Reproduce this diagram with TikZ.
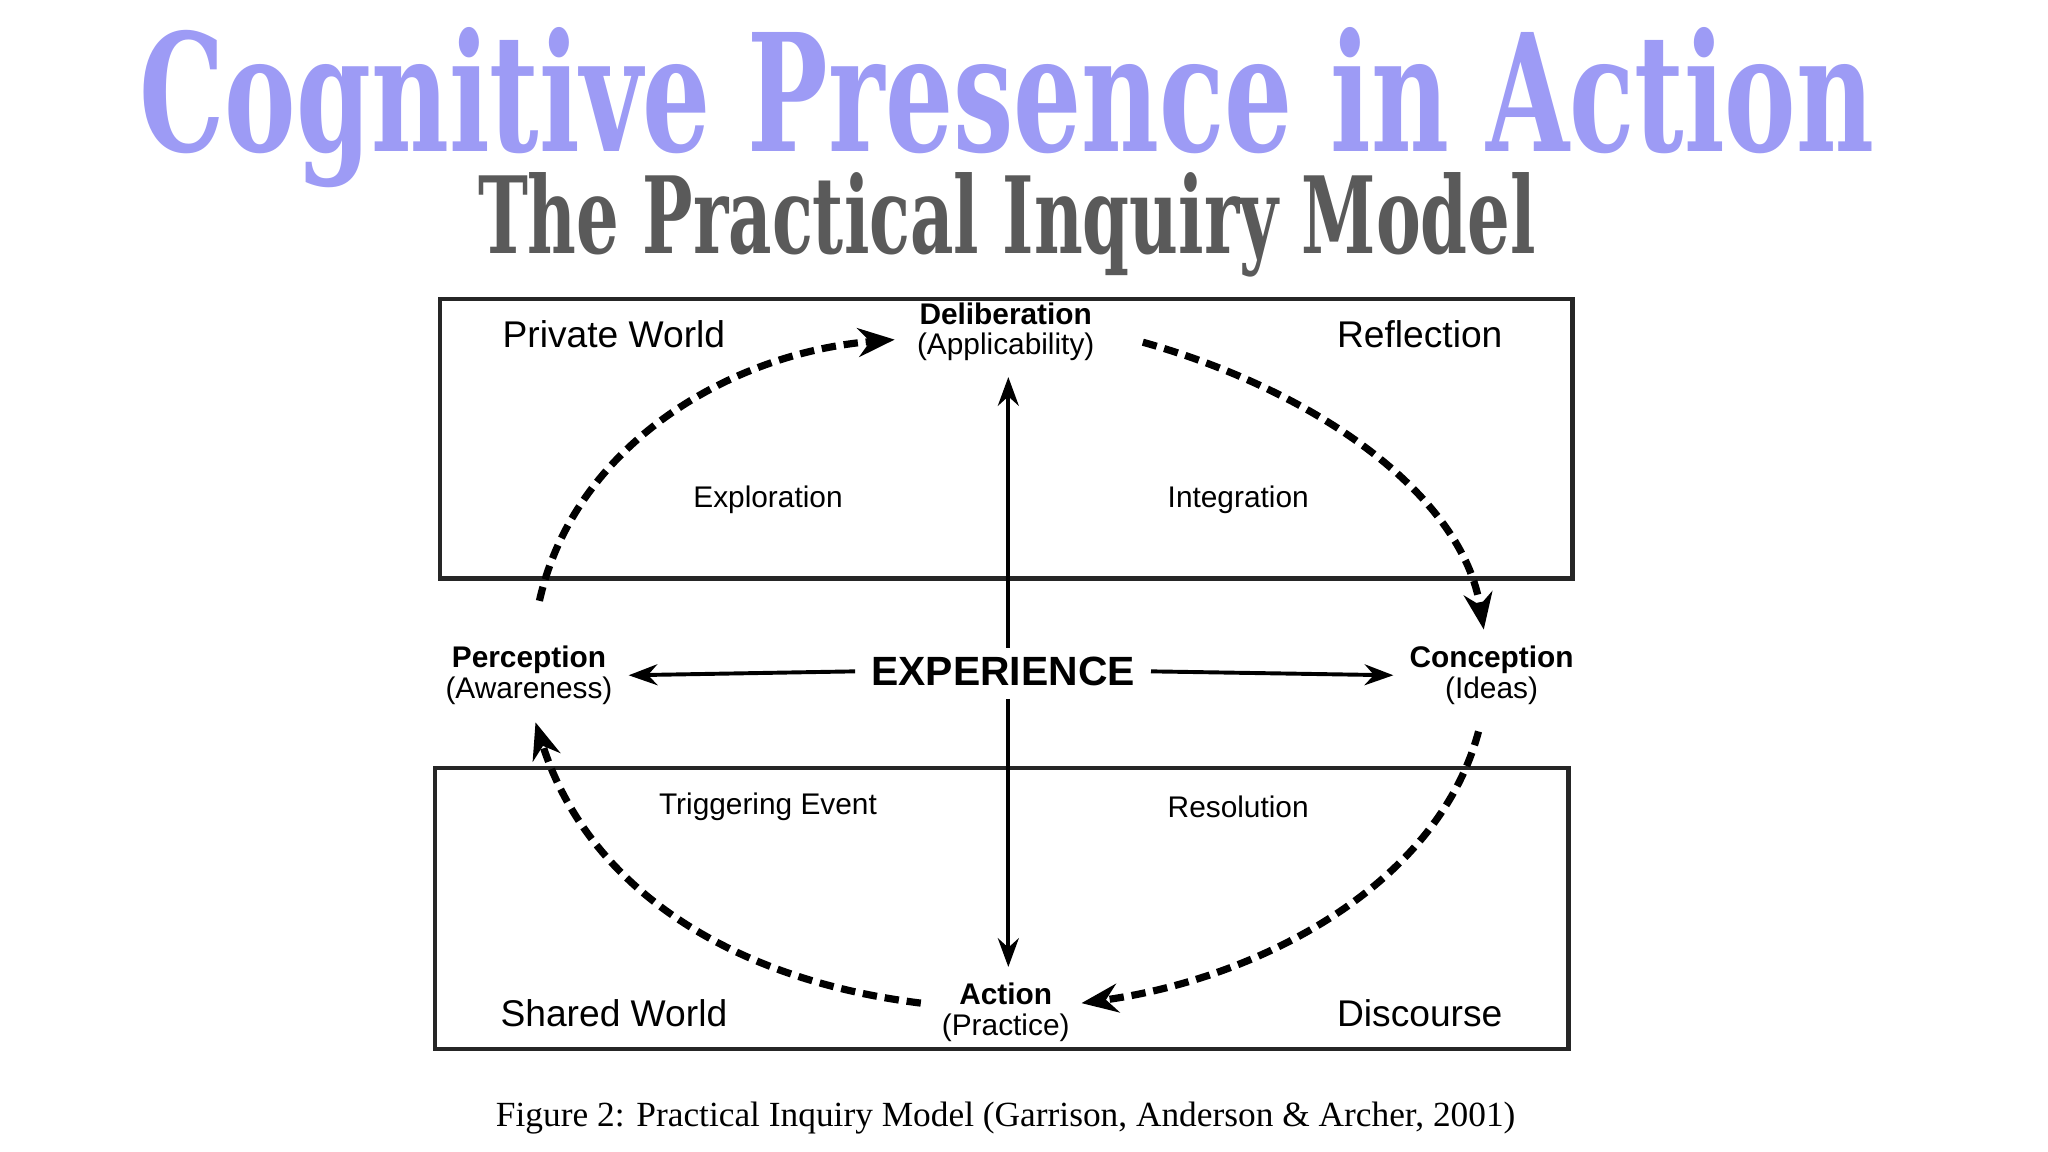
\documentclass[tikz,border=0pt]{standalone}
\usepackage{fontspec}
\usepackage{graphicx}
\setmainfont{Liberation Sans}
\newfontfamily\titlefont{DejaVu Serif}
\newfontfamily\capfont{Liberation Serif}
\usetikzlibrary{arrows.meta}
\definecolor{titlecol}{HTML}{9D9BF5}
\definecolor{subcol}{HTML}{5A5A5A}
\tikzset{
  x=0.1mm,y=-0.1mm,
  box/.style={draw=black!85,line width=0.35mm},
  solidarrow/.style={line width=0.3mm,-{Stealth[length=2.2mm,width=1.6mm]}},
  dasharrow/.style={line width=0.55mm,dash pattern=on 1.1mm off 0.6mm,-{Stealth[length=2.8mm,width=2.2mm]}},
  corner/.style={font=\fontsize{8.1}{9}\selectfont},
  stage/.style={font=\fontsize{6.5}{7}\selectfont},
  pole/.style={align=center,font=\fontsize{6.5}{6.6}\selectfont},
}
\begin{document}
\begin{tikzpicture}
\useasboundingbox (0,0) rectangle (1568,882);
\node (title) at (771,82) {\resizebox{13.28cm}{0.95cm}{\titlefont\bfseries\color{titlecol}Cognitive Presence in Action}};
\node (sub) at (771,172) {\resizebox{8.1cm}{0.62cm}{\titlefont\bfseries\color{subcol}The Practical Inquiry Model}};
\draw[box] (337,229) rectangle (1204,443);
\draw[box] (333,588) rectangle (1201,803);
\node[corner] (pw) at (470,256) {Private World};
\node[corner] (rf) at (1087,256) {Reflection};
\node[corner] (sw) at (470,776) {Shared World};
\node[corner] (dc) at (1087,776) {Discourse};
\node[stage] (ex) at (588,383) {Exploration};
\node[stage] (in) at (948,383) {Integration};
\node[stage] (te) at (588,618) {Triggering Event};
\node[stage] (rs) at (948,618) {Resolution};
\node[pole] (del) at (770,254) {\textbf{Deliberation}\\(Applicability)};
\node[pole] (per) at (405,517) {\textbf{Perception}\\(Awareness)};
\node[pole] (con) at (1142,517) {\textbf{Conception}\\(Ideas)};
\node[pole] (act) at (770,775) {\textbf{Action}\\(Practice)};
\node[font=\fontsize{8.9}{9}\selectfont\bfseries] (exp) at (768,514) {EXPERIENCE};
\coordinate (vt) at (772,496);
\coordinate (vb) at (772,535);
\draw[solidarrow] (vt) -- (del.south -| vt);
\draw[solidarrow] (vb) -- (act.north -| vb);
\draw[solidarrow] (exp.west) -- (per.east);
\draw[solidarrow] (exp.east) -- (con.west);
\coordinate (a1) at (413,460); \coordinate (a2) at (685,260);
\coordinate (b1) at (875,262); \coordinate (b2) at (1136,482);
\coordinate (c1) at (1132,560); \coordinate (c2) at (828,768);
\coordinate (d1) at (705,768); \coordinate (d2) at (410,553);
\draw[dasharrow] (a1) .. controls (440,340) and (560,270) .. (a2);
\draw[dasharrow] (b1) .. controls (1010,300) and (1120,380) .. (b2);
\draw[dasharrow] (c1) .. controls (1100,680) and (960,750) .. (c2);
\draw[dasharrow] (d1) .. controls (560,750) and (450,680) .. (d2);
\node (cap) at (770,856) {\capfont\fontsize{7.7}{8}\selectfont Figure 2: Practical Inquiry Model (Garrison, Anderson \& Archer, 2001)};
\end{tikzpicture}
\end{document}
